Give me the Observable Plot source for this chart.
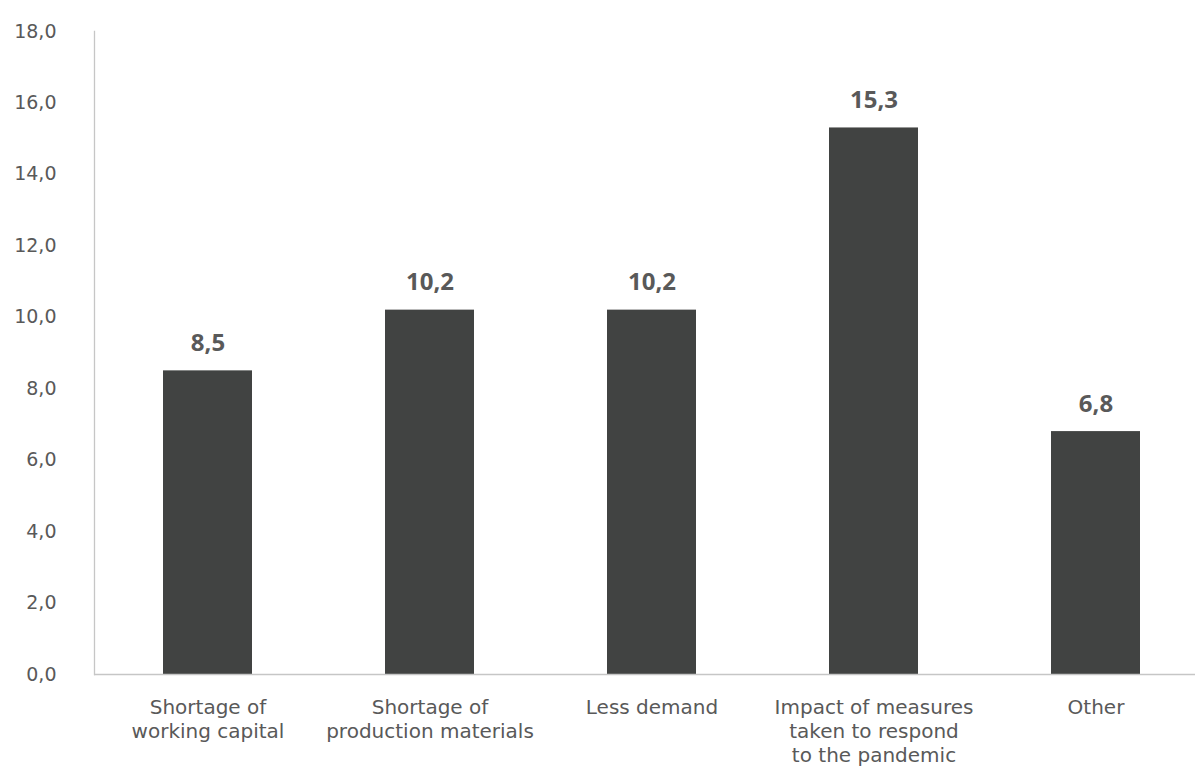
<!DOCTYPE html>
<html>
<head>
<meta charset="utf-8">
<script src="https://cdn.jsdelivr.net/npm/d3@7"></script>
<script src="https://cdn.jsdelivr.net/npm/@observablehq/plot@0.6"></script>
<style>
  html, body { margin: 0; padding: 0; background: #fff; overflow: hidden; }
  #chart svg { display: block; }
</style>
</head>
<body>
<div id="chart"></div>
<script>
// Reasons for difficulties (share, %)
const categories = [
  "Shortage of\nworking capital",
  "Shortage of\nproduction materials",
  "Less demand",
  "Impact of measures\ntaken to respond\nto the pandemic",
  "Other"
];
const values = [8.5, 10.2, 10.2, 15.3, 6.8];
const yTicks = [0, 2, 4, 6, 8, 10, 12, 14, 16, 18];

const data = categories.map((c, i) => ({category: c, value: values[i]}));
const comma = d => d.toFixed(1).replace(".", ",");

const textColor = "#595959";
const axisColor = "#c6c6c6";
const barColor = "#414342";
const axisFont = "'DejaVu Sans', sans-serif";

const chart = Plot.plot({
  width: 1195,
  height: 770,
  marginTop: 31,
  marginBottom: 96,
  marginLeft: 94,
  marginRight: 0,
  style: {fontFamily: "'Open Sans', sans-serif", color: textColor, background: "#fff"},
  x: {domain: categories, range: [94, 1208.5], paddingInner: 0.6, paddingOuter: 0.3},
  y: {domain: [0, 18]},
  marks: [
    Plot.axisY({
      ticks: yTicks, tickFormat: comma, tickSize: 0, tickPadding: 38,
      fontSize: 19, fontFamily: axisFont, fill: textColor, label: null
    }),
    Plot.axisX({
      tickSize: 0, tickPadding: 22, fontSize: 20, lineHeight: 1.2,
      fontFamily: axisFont, fill: textColor, label: null, textAnchor: "middle"
    }),
    Plot.barY(data, {x: "category", y: "value", fill: barColor}),
    Plot.frame({anchor: "left", stroke: axisColor, strokeWidth: 1.3}),
    Plot.ruleY([0], {stroke: axisColor, strokeWidth: 1.5}),
    Plot.text(data, {
      x: "category", y: "value", text: d => comma(d.value),
      dy: -20, lineAnchor: "bottom", fontSize: 24, fontWeight: "bold",
      fill: textColor
    })
  ]
});

document.getElementById("chart").appendChild(chart);
</script>
</body>
</html>
